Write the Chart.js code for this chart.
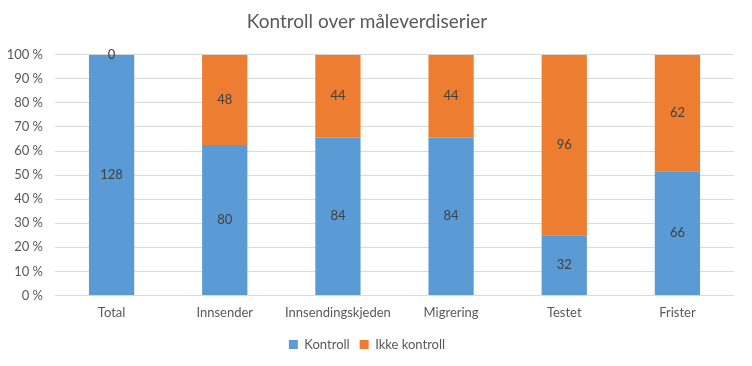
<!DOCTYPE html>
<html>
<head>
<meta charset="utf-8">
<script src="https://cdn.jsdelivr.net/npm/chart.js@4/dist/chart.umd.min.js"></script>
<style>
  html, body { margin: 0; padding: 0; background: #fff; }
  #wrap { width: 752px; height: 366px; }
</style>
</head>
<body>
<div id="wrap"><canvas id="chart" width="752" height="366"></canvas></div>
<script>
const categories = ['Total', 'Innsender', 'Innsendingskjeden', 'Migrering', 'Testet', 'Frister'];
const kontroll = [128, 80, 84, 84, 32, 66];
const ikkeKontroll = [0, 48, 44, 44, 96, 62];

const FONT = 'Lato, "Open Sans", sans-serif';
const GREY = '#595959';

function toPercent(values) {
    return values.map((v, i) => v / (kontroll[i] + ikkeKontroll[i]) * 100);
}

// draws the raw counts in the middle of each segment
const countLabels = {
    id: 'countLabels',
    afterDatasetsDraw(chart) {
        const ctx = chart.ctx;
        ctx.save();
        ctx.font = '13px ' + FONT;
        ctx.fillStyle = '#404040';
        ctx.textAlign = 'center';
        ctx.textBaseline = 'middle';
        chart.data.datasets.forEach((ds, di) => {
            const meta = chart.getDatasetMeta(di);
            meta.data.forEach((bar, i) => {
                const mid = (bar.y + bar.base) / 2;
                ctx.fillText(String(ds.counts[i]), bar.x, mid);
            });
        });
        ctx.restore();
    }
};

const ctx = document.getElementById('chart').getContext('2d');
const chart = new Chart(ctx, {
    type: 'bar',
    data: {
        labels: categories,
        datasets: [
            {
                label: 'Kontroll',
                data: toPercent(kontroll),
                counts: kontroll,
                backgroundColor: '#5B9BD5',
                categoryPercentage: 1,
                barPercentage: 0.4
            },
            {
                label: 'Ikke kontroll',
                data: toPercent(ikkeKontroll),
                counts: ikkeKontroll,
                backgroundColor: '#ED7D31',
                categoryPercentage: 1,
                barPercentage: 0.4
            }
        ]
    },
    options: {
        responsive: false,
        animation: false,
        layout: { padding: { left: 0, right: 18, top: 6, bottom: 5 } },
        plugins: {
            title: {
                display: true,
                text: 'Kontroll over måleverdiserier',
                color: GREY,
                font: { family: FONT, size: 19, weight: 'normal' },
                padding: { top: 4, bottom: 22 }
            },
            legend: {
                position: 'bottom',
                labels: {
                    color: GREY,
                    font: { family: FONT, size: 13 },
                    boxWidth: 9,
                    boxHeight: 9,
                    padding: 10
                }
            },
            tooltip: { enabled: false }
        },
        scales: {
            x: {
                stacked: true,
                grid: { display: false },
                border: { display: false },
                afterFit(scale) { scale.height += 5; },
                ticks: { color: GREY, font: { family: FONT, size: 13 }, padding: 2 }
            },
            y: {
                stacked: true,
                min: 0,
                max: 100,
                grid: { color: '#D9D9D9', drawTicks: false },
                border: { display: false },
                afterFit(scale) { scale.width = 55; },
                ticks: {
                    stepSize: 10,
                    color: GREY,
                    font: { family: FONT, size: 13 },
                    padding: 12,
                    callback: v => v + ' %'
                }
            }
        }
    },
    plugins: [countLabels]
});
</script>
</body>
</html>
